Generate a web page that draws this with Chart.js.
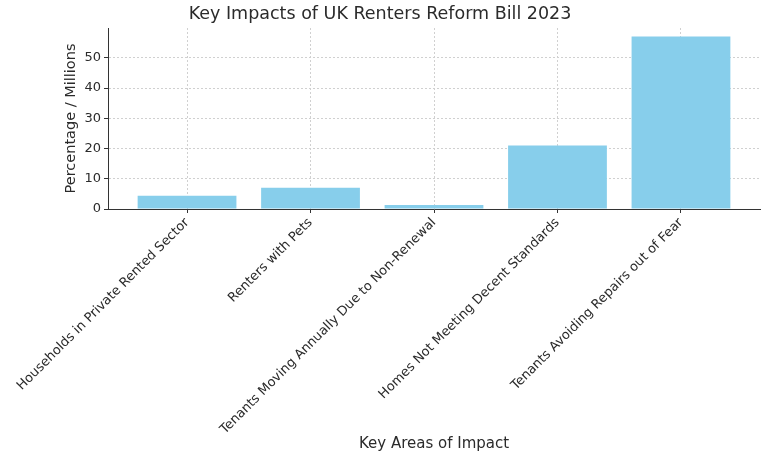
<!DOCTYPE html>
<html>
<head>
<meta charset="utf-8">
<script src="https://cdn.jsdelivr.net/npm/chart.js@4.4.0/dist/chart.umd.min.js"></script>
<style>
  html, body { margin: 0; padding: 0; background: #fff; }
  #wrap { width: 768px; height: 461px; }
</style>
</head>
<body>
<div id="wrap"><canvas id="c"></canvas></div>
<script>
const categories = [
  "Households in Private Rented Sector",
  "Renters with Pets",
  "Tenants Moving Annually Due to Non-Renewal",
  "Homes Not Meeting Decent Standards",
  "Tenants Avoiding Repairs out of Fear"
];
const values = [4.4, 7, 1.3, 21, 57];
const yTicks = [0, 10, 20, 30, 40, 50];
const xTicks = [0, 1, 2, 3, 4];

const FONT = "'DejaVu Sans', sans-serif";
const TXT = '#2b2b2b';

new Chart(document.getElementById('c'), {
  type: 'bar',
  data: {
    datasets: [{
      data: values.map((v, i) => ({ x: i, y: v })),
      backgroundColor: '#87CEEB',
      borderWidth: 0,
      barPercentage: 0.8,
      categoryPercentage: 1.0
    }]
  },
  options: {
    responsive: true,
    maintainAspectRatio: false,
    animation: false,
    layout: { padding: { left: 0, right: 8, top: 0, bottom: 0 } },
    plugins: {
      legend: { display: false },
      tooltip: { enabled: false },
      title: {
        display: true,
        text: 'Key Impacts of UK Renters Reform Bill 2023',
        color: TXT,
        font: { family: FONT, size: 17.5, weight: 'normal' },
        padding: { top: 4, bottom: 3 }
      }
    },
    scales: {
      x: {
        type: 'linear',
        min: -0.64,
        max: 4.64,
        offset: false,
        afterBuildTicks: (s) => { s.ticks = xTicks.map(v => ({ value: v })); },
        afterFit: (s) => { s.height = 252; },
        grid: {
          offset: false,
          color: '#d0d0d0',
          tickColor: '#333',
          tickLength: 4,
          drawOnChartArea: true
        },
        border: { display: true, color: '#333', width: 1, dash: [2, 2] },
        ticks: {
          autoSkip: false,
          minRotation: 45,
          maxRotation: 45,
          padding: 2,
          color: TXT,
          font: { family: FONT, size: 13 },
          callback: (v) => categories[v]
        },
        title: {
          display: true,
          text: 'Key Areas of Impact',
          color: TXT,
          font: { family: FONT, size: 15 },
          padding: { top: 0, bottom: 8 }
        }
      },
      y: {
        min: 0,
        max: 59.85,
        afterBuildTicks: (s) => { s.ticks = yTicks.map(v => ({ value: v })); },
        afterFit: (s) => { s.width = 108; },
        grid: {
          color: '#d0d0d0',
          tickColor: '#333',
          tickLength: 4
        },
        border: { display: true, color: '#333', width: 1, dash: [2, 2] },
        ticks: {
          padding: 3,
          color: TXT,
          font: { family: FONT, size: 13 }
        },
        title: {
          display: true,
          text: 'Percentage / Millions',
          color: TXT,
          font: { family: FONT, size: 14.5 },
          padding: { top: 63, bottom: 0 }
        }
      }
    }
  }
});
</script>
</body>
</html>
